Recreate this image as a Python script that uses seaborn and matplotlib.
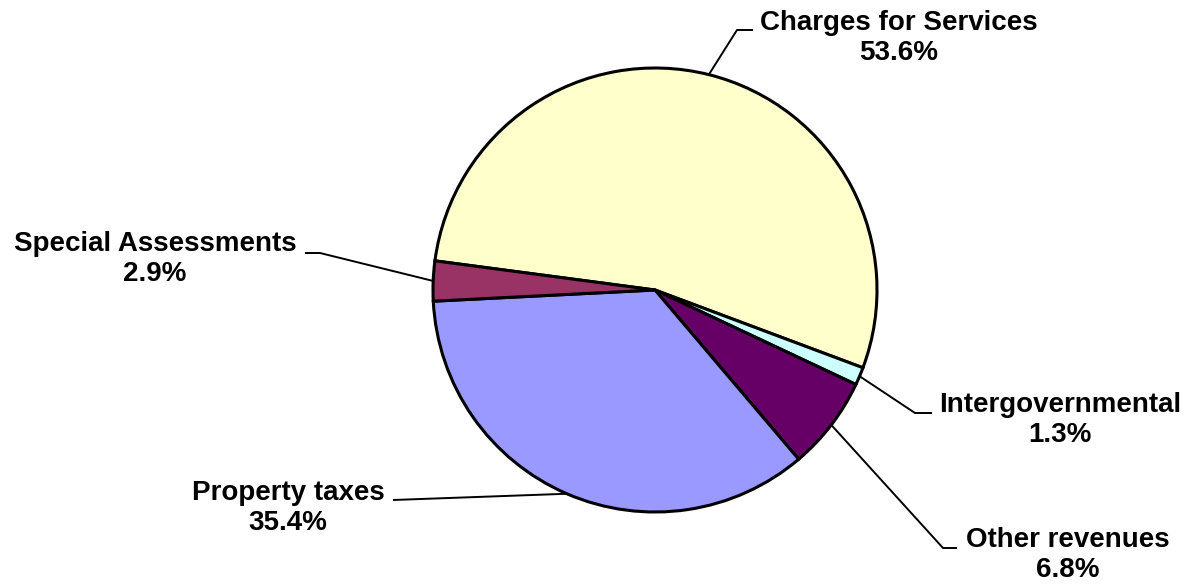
import numpy as np
import matplotlib
matplotlib.use("Agg")
import matplotlib.pyplot as plt
import seaborn as sns

categories = ["Charges for Services", "Intergovernmental", "Other revenues",
              "Property taxes", "Special Assessments"]
shares = [53.6, 1.3, 6.8, 35.4, 2.9]
pct_labels = ["53.6%", "1.3%", "6.8%", "35.4%", "2.9%"]
colors = ["#FFFFCC", "#CCFFFF", "#660066", "#9999FF", "#993366"]

sns.set_theme(style="white")
plt.rcParams['font.family'] = ['Liberation Sans', 'DejaVu Sans']

W, H = 1189, 587
fig = plt.figure(figsize=(W / 100, H / 100), dpi=100)
ax = fig.add_axes([0, 0, 1, 1])

cx, cy, r = 655, H - 290, 222
wedges, _ = ax.pie(shares, colors=colors, startangle=172.45, counterclock=False,
                   center=(cx, cy), radius=r,
                   wedgeprops=dict(edgecolor="black", linewidth=2.2))
ax.set_xlim(0, W)
ax.set_ylim(0, H)
ax.set_aspect("equal")
ax.axis("off")

# label layout (pixel coords from top): elbow points, text centres
layout = {
    "Charges for Services": dict(path=[(737, 30), (753, 30)], text=(899, 38)),
    "Intergovernmental": dict(path=[(915, 413), (932, 413)], text=(1060, 420)),
    "Other revenues": dict(path=[(943, 548), (957, 548)], text=(1068, 555)),
    "Property taxes": dict(path=[(393, 500)], text=(288, 508)),
    "Special Assessments": dict(path=[(320, 253), (305, 253)], text=(155, 259)),
}

for w, cat, pl in zip(wedges, categories, pct_labels):
    mid = np.deg2rad((w.theta1 + w.theta2) / 2)
    sx, sy = cx + r * np.cos(mid), cy + r * np.sin(mid)
    lay = layout[cat]
    xs = [sx] + [p[0] for p in lay["path"]]
    ys = [sy] + [H - p[1] for p in lay["path"]]
    ax.plot(xs, ys, color="black", linewidth=1.4, solid_capstyle="butt", zorder=0)
    tx, ty = lay["text"]
    ax.text(tx, H - ty, f"{cat}\n{pl}", ha="center", va="center",
            multialignment="center", fontsize=20, fontweight="bold",
            color="black", linespacing=1.2)

fig.savefig("out.png", dpi=100, facecolor="white")
